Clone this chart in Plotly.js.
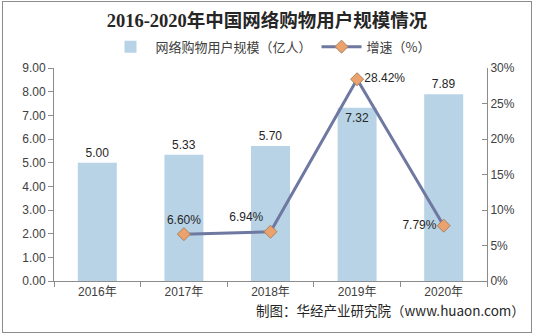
<!DOCTYPE html>
<html><head><meta charset="utf-8">
<script src="https://cdn.plot.ly/plotly-3.0.1.min.js"></script>
<style>
html,body{margin:0;padding:0;background:#fff;}
#chart{width:534px;height:336px;position:relative;}
#frame{position:absolute;left:2px;top:1px;width:528px;height:330px;border:1px solid #8c8c8c;pointer-events:none;}
</style></head>
<body>
<div style="position:relative;width:534px;height:336px;">
<div id="chart"></div>
<div id="frame"></div>
</div>
<script>
const categories = ["2016年","2017年","2018年","2019年","2020年"];
const users = [5.00, 5.33, 5.70, 7.32, 7.89];
const userLabels = ["5.00","5.33","5.70","7.32","7.89"];
const growthCats = ["2017年","2018年","2019年","2020年"];
const growth = [6.60, 6.94, 28.42, 7.79];
const growthLabels = ["6.60%","6.94%","28.42%","7.79%"];
const yTicks = [0,1,2,3,4,5,6,7,8,9];
const y2Ticks = [0,5,10,15,20,25,30];

const font = "Liberation Sans, Arial, Noto Sans CJK SC, sans-serif";

const traces = [
  {
    type: "bar", name: "网络购物用户规模（亿人）",
    x: categories, y: users,
    text: userLabels,
    textposition: ["outside","outside","outside","inside","outside"],
    insidetextanchor: "end",
    textfont: {family: font, size: 12, color: "#262626"},
    cliponaxis: false,
    marker: {color: "#B8D3E5"},
    width: 0.45,
    hoverinfo: "none"
  },
  {
    type: "scatter", mode: "lines+markers+text", name: "增速（%）",
    x: growthCats, y: growth, yaxis: "y2",
    text: growthLabels,
    textposition: ["top center","top left","middle right","middle left"],
    textfont: {family: font, size: 12, color: "#262626"},
    line: {color: "#6E78A0", width: 3},
    marker: {symbol: "diamond", size: 10, color: "#EBA26C", line: {color: "#A9825F", width: 1}},
    cliponaxis: false,
    hoverinfo: "none"
  }
];

const layout = {
  width: 534, height: 336,
  margin: {l: 54, r: 47, t: 68, b: 55},
  paper_bgcolor: "#fff", plot_bgcolor: "#fff",
  showlegend: true,
  title: {text: "<b>2016-2020年中国网络购物用户规模情况</b>", x: 0.5, xanchor: "center", y: 0.94, yanchor: "middle",
          font: {family: "Liberation Serif, Noto Sans CJK SC, serif", size: 18.5, color: "#262626"}},
  legend: {orientation: "h", x: 0.5, xanchor: "center", y: 1.1, yanchor: "middle",
           font: {family: "Noto Sans CJK SC, sans-serif", size: 13, color: "#404040"},
           itemwidth: 40, traceorder: "normal"},
  xaxis: {
    type: "category", showgrid: false, showline: true, linecolor: "#8c8c8c", linewidth: 1,
    ticks: "outside", ticklen: 5, tickcolor: "#8c8c8c", tickson: "boundaries",
    tickfont: {family: font, size: 12, color: "#404040"}, zeroline: false
  },
  yaxis: {
    range: [0, 9], tickvals: yTicks, ticktext: yTicks.map(v => v.toFixed(2)),
    showgrid: false, showline: true, linecolor: "#8c8c8c", linewidth: 1,
    ticks: "outside", ticklen: 5, tickcolor: "#8c8c8c",
    tickfont: {family: font, size: 12, color: "#404040"}, zeroline: false
  },
  yaxis2: {
    overlaying: "y", side: "right", range: [0, 30], tickvals: y2Ticks, ticktext: y2Ticks.map(v => v + "%"),
    showgrid: false, showline: true, linecolor: "#8c8c8c", linewidth: 1,
    ticks: "inside", ticklen: 5, tickcolor: "#8c8c8c",
    tickfont: {family: font, size: 12, color: "#404040"}, zeroline: false
  },
  annotations: [
    {text: "制图：华经产业研究院（www.huaon.com）", xref: "paper", yref: "paper",
     x: 1.092, xanchor: "right", y: -0.135, yanchor: "middle", showarrow: false,
     font: {family: "Noto Sans CJK SC, sans-serif", size: 13.5, color: "#262626"}}
  ]
};

Plotly.newPlot("chart", traces, layout, {displayModeBar: false, staticPlot: true});
</script>
</body></html>
